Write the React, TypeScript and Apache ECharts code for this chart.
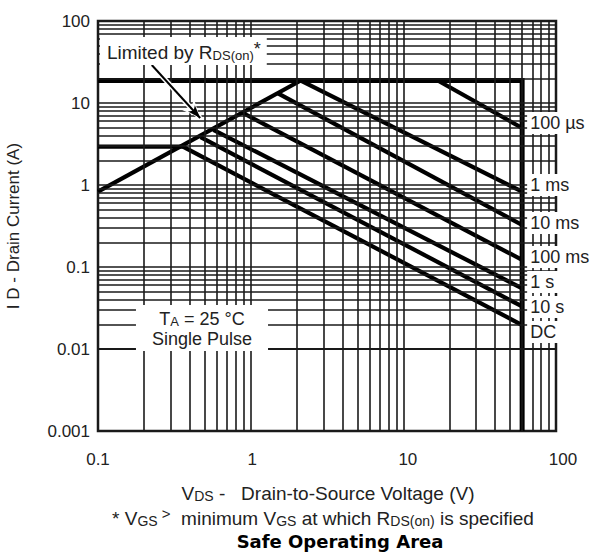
import React, { useEffect, useRef } from "react";
import * as echarts from "echarts";

// ---- data ----
const xTickLabels = ["0.1", "1", "10", "100"];
const yTickLabels = ["0.001", "0.01", "0.1", "1", "10", "100"];
const gridMantissas = [1, 2, 3, 4, 5, 6, 7, 8, 9];
const xGridDecades = [0.1, 1, 10];
const yGridDecades = [0.001, 0.01, 0.1, 1, 10];

const boundaryLimit = [[0.1, 18.8], [60, 18.8], [60, 0.001]];
const currentLimit = [[0.1, 2.93], [0.36, 2.93]];
const rdsOnLimit = [[0.1, 0.83], [2.13, 18.8]];
const pulse100us = [[16.8, 18.8], [60, 4.95]];
const pulse1ms = [[2.13, 18.8], [60, 0.83]];
const pulse10ms = [[1.51, 13.1], [60, 0.325]];
const pulse100ms = [[0.89, 7.55], [60, 0.122]];
const pulse1s = [[0.57, 4.7], [60, 0.055]];
const pulse10s = [[0.47, 3.83], [60, 0.033]];
const pulseDC = [[0.36, 2.93], [60, 0.0196]];

const curveLabels = ["100 µs", "1 ms", "10 ms", "100 ms", "1 s", "10 s", "DC"];
const curveLabelCurrents = [5.7, 1.0, 0.344, 0.132, 0.0656, 0.0325, 0.0161];
const labelVoltage = 60;

const arrowStart = [0.225, 29.1];
const arrowEnd = [0.467, 6.56];

const FONT = "'Liberation Sans', Arial, Helvetica, sans-serif";
const TEXT = "#222";

function buildGrid(decades: number[]) {
  const out: number[] = [];
  decades.forEach((d, i) => {
    gridMantissas.forEach((m) => {
      if (i === 0 && m === 1) return;
      out.push(d * m);
    });
  });
  return out;
}

export default function App() {
  const ref = useRef<HTMLDivElement>(null);
  useEffect(() => {
    const chart = echarts.init(ref.current!, null, { renderer: "svg" });
    const xGrid = buildGrid(xGridDecades);
    const yGrid = buildGrid(yGridDecades);
    const gridLine = { color: "#1a1a1a", width: 1.6, type: "solid" as const };
    const curveStyle = { color: "#000", width: 4.2, cap: "butt" as const, join: "miter" as const };
    const curves = [boundaryLimit, currentLimit, rdsOnLimit, pulse100us, pulse1ms, pulse10ms, pulse100ms, pulse1s, pulse10s, pulseDC];

    const sub = { fontSize: 13, lineHeight: 13, verticalAlign: "bottom", fill: TEXT, fontFamily: FONT };
    const xLabelRich: any = {};
    const xLabelPads = [0, 3, 9, 14];
    xLabelPads.forEach((p, i) => {
      xLabelRich["t" + i] = { fontSize: 17, color: TEXT, fontFamily: FONT, padding: [0, 0, 0, p] };
    });
    const option: any = {
      animation: false,
      backgroundColor: "#fff",
      grid: { left: 98, top: 21, width: 458, height: 410, show: true, borderColor: "#1a1a1a", borderWidth: 2.5, backgroundColor: "transparent" },
      xAxis: {
        type: "log", logBase: 10, min: 0.1, max: 100,
        axisLine: { show: false }, axisTick: { show: false }, splitLine: { show: false },
        axisLabel: {
          fontSize: 17, color: TEXT, fontFamily: FONT, margin: 20,
          formatter: (v: number) => {
            const i = Math.round(Math.log10(v)) + 1;
            return "{t" + i + "|" + xTickLabels[i] + "}";
          },
          rich: xLabelRich,
        },
      },
      yAxis: {
        type: "log", logBase: 10, min: 0.001, max: 100,
        axisLine: { show: false }, axisTick: { show: false }, splitLine: { show: false },
        axisLabel: {
          fontSize: 17, color: TEXT, fontFamily: FONT, margin: 8,
          formatter: (v: number) => yTickLabels[Math.round(Math.log10(v)) + 3],
        },
      },
      series: [
        {
          type: "line", data: [], z: 1, silent: true,
          markLine: {
            silent: true, symbol: ["none", "none"], label: { show: false },
            lineStyle: gridLine, emphasis: { disabled: true },
            data: [...xGrid.map((v) => ({ xAxis: v })), ...yGrid.map((v) => ({ yAxis: v }))],
          },
        },
        ...curves.map((c, i) => ({
          type: "line", data: c, symbol: "none", silent: true, z: 3,
          lineStyle: { ...curveStyle, width: i === 0 ? 5 : 4.2 },
        })),
        {
          type: "scatter", z: 5, silent: true, symbolSize: 0,
          itemStyle: { opacity: 1 },
          data: curveLabelCurrents.map((c) => [labelVoltage, c]),
          label: {
            show: true, position: "right", distance: 5,
            formatter: (p: any) => curveLabels[p.dataIndex],
            fontSize: 18, fontFamily: FONT, color: TEXT, backgroundColor: "#fff",
            padding: [1, 4, 1, 3], lineHeight: 20, opacity: 1,
          },
        },
        {
          type: "line", data: [], z: 6, silent: true,
          markLine: {
            silent: true, label: { show: false }, emphasis: { disabled: true },
            data: [
              [
                { coord: arrowStart, symbol: "none", lineStyle: { color: "#fff", width: 5, type: "solid" } },
                { coord: arrowEnd, symbol: "arrow", symbolSize: [12, 18] },
              ],
              [
                { coord: arrowStart, symbol: "none", lineStyle: { color: "#000", width: 2, type: "solid" } },
                { coord: arrowEnd, symbol: "arrow", symbolSize: [7, 13] },
              ],
            ],
          },
        },
      ],
      graphic: [
        {
          type: "text", x: 100, y: 51, z: 10,
          style: {
            text: "{n|Limited by R}{s|DS(on)}{p|*}",
            backgroundColor: "#fff", padding: [3, 6, 3, 7], verticalAlign: "middle", align: "left",
            rich: {
              n: { fontSize: 19, lineHeight: 22, verticalAlign: "bottom", fill: TEXT, fontFamily: FONT },
              s: sub,
              p: { fontSize: 18, lineHeight: 22, verticalAlign: "top", fill: TEXT, fontFamily: FONT },
            },
          },
        },
        {
          type: "text", x: 202, y: 328, z: 10,
          style: {
            text: "{n|T}{s|A}{n| = 25 °C}\n{n|Single Pulse}",
            backgroundColor: "#fff", padding: [3, 16, 3, 16], verticalAlign: "middle", align: "center",
            rich: {
              n: { fontSize: 18, lineHeight: 20, verticalAlign: "bottom", fill: TEXT, fontFamily: FONT },
              s: sub,
            },
          },
        },
        {
          type: "text", x: 13, y: 226, rotation: Math.PI / 2, z: 10,
          style: { text: "I D - Drain Current (A)", fontSize: 17, fontFamily: FONT, fill: TEXT, align: "center", verticalAlign: "middle" },
        },
        {
          type: "text", x: 328, y: 492, z: 10,
          style: {
            text: "{n|V}{s|DS}{n| -   Drain-to-Source Voltage (V)}", align: "center", verticalAlign: "middle",
            rich: { n: { fontSize: 19, lineHeight: 22, verticalAlign: "bottom", fill: TEXT, fontFamily: FONT }, s: { ...sub, fontSize: 14, lineHeight: 14 } },
          },
        },
        {
          type: "text", x: 323, y: 517, z: 10,
          style: {
            text: "{n|* V}{s|GS}{g| >}{n|  minimum V}{s|GS}{n| at which R}{s|DS(on)}{n| is specified}", align: "center", verticalAlign: "middle",
            rich: {
              n: { fontSize: 19, lineHeight: 22, verticalAlign: "bottom", fill: TEXT, fontFamily: FONT },
              s: { ...sub, fontSize: 14, lineHeight: 14 },
              g: { fontSize: 15, lineHeight: 22, verticalAlign: "top", fill: TEXT, fontFamily: FONT },
            },
          },
        },
        {
          type: "text", x: 340, y: 541, z: 10,
          style: { text: "Safe Operating Area", fontSize: 18, fontWeight: "bold", fontFamily: "'DejaVu Sans', sans-serif", fill: "#000", align: "center", verticalAlign: "middle" },
        },
      ],
    };
    chart.setOption(option);
    return () => chart.dispose();
  }, []);
  return <div ref={ref} style={{ position: "fixed", left: 0, top: 0, width: 592, height: 554 }} />;
}
